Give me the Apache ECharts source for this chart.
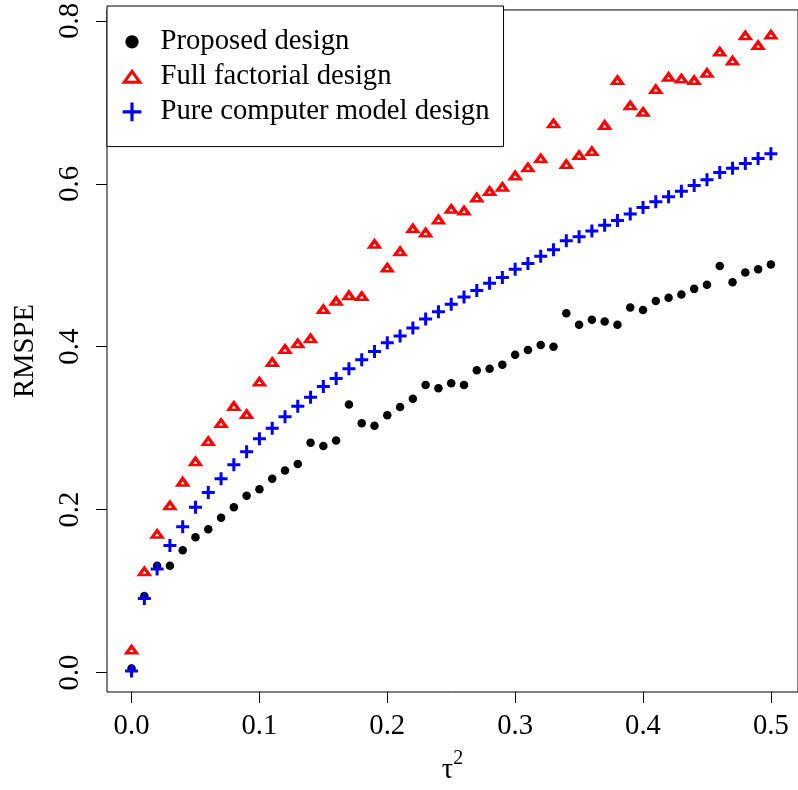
<!DOCTYPE html>
<html>
<head>
<meta charset="utf-8">
<script src="https://cdn.jsdelivr.net/npm/echarts@6/dist/echarts.min.js"></script>
<style>
  html, body { margin: 0; padding: 0; background: #fff; }
  #chart { width: 798px; height: 790px; }
</style>
</head>
<body>
<div id="chart"></div>
<script>
// tau^2 values at which each design was evaluated
const tau2 = [0.00, 0.01, 0.02, 0.03, 0.04, 0.05, 0.06, 0.07, 0.08, 0.09,
              0.10, 0.11, 0.12, 0.13, 0.14, 0.15, 0.16, 0.17, 0.18, 0.19,
              0.20, 0.21, 0.22, 0.23, 0.24, 0.25, 0.26, 0.27, 0.28, 0.29,
              0.30, 0.31, 0.32, 0.33, 0.34, 0.35, 0.36, 0.37, 0.38, 0.39,
              0.40, 0.41, 0.42, 0.43, 0.44, 0.45, 0.46, 0.47, 0.48, 0.49, 0.50];

// RMSPE for each design
const proposedDesign = [0.005, 0.094, 0.131, 0.131, 0.150, 0.166, 0.176, 0.190, 0.203, 0.217,
                        0.225, 0.238, 0.248, 0.256, 0.282, 0.278, 0.285, 0.329, 0.306, 0.303,
                        0.316, 0.326, 0.336, 0.353, 0.349, 0.355, 0.353, 0.371, 0.373, 0.378,
                        0.390, 0.396, 0.402, 0.400, 0.441, 0.427, 0.433, 0.431, 0.427, 0.448,
                        0.445, 0.456, 0.460, 0.464, 0.471, 0.476, 0.499, 0.479, 0.491, 0.495, 0.501];

const fullFactorialDesign = [0.028, 0.124, 0.170, 0.205, 0.234, 0.259, 0.284, 0.306, 0.327, 0.317,
                             0.357, 0.381, 0.397, 0.404, 0.410, 0.446, 0.456, 0.463, 0.462, 0.526,
                             0.497, 0.517, 0.545, 0.540, 0.556, 0.569, 0.567, 0.583, 0.591, 0.596,
                             0.610, 0.620, 0.631, 0.674, 0.624, 0.635, 0.640, 0.672, 0.727, 0.696,
                             0.688, 0.716, 0.731, 0.729, 0.727, 0.736, 0.762, 0.751, 0.782, 0.770, 0.783];

const pureComputerDesign = [0.002, 0.091, 0.127, 0.156, 0.179, 0.203, 0.221, 0.238, 0.255, 0.271,
                            0.287, 0.300, 0.314, 0.327, 0.338, 0.351, 0.361, 0.373, 0.384, 0.394,
                            0.405, 0.413, 0.423, 0.434, 0.443, 0.452, 0.461, 0.469, 0.478, 0.485,
                            0.495, 0.502, 0.511, 0.519, 0.530, 0.535, 0.542, 0.549, 0.555, 0.563,
                            0.571, 0.578, 0.584, 0.591, 0.598, 0.605, 0.614, 0.619, 0.625, 0.631, 0.637];

const seriesNames = ['Proposed design', 'Full factorial design', 'Pure computer model design'];
const xTicks = [0, 0.1, 0.2, 0.3, 0.4, 0.5];
const yTicks = [0, 0.2, 0.4, 0.6, 0.8];

const pairs = ys => tau2.map((x, i) => [x, ys[i]]);

const FONT = 'Liberation Serif';
const FS = 28.7;

// marker shapes (plot size and padded legend size)
const plusPath = 'path://M5,0H8V5H13V8H8V13H5V8H0V5H5Z';
const trianglePath = 'path://M6,0L12,9L0,9Z';
const legendDot = 'path://M0,0M20,20M16.65,10A6.65,6.65,0,1,1,3.35,10A6.65,6.65,0,1,1,16.65,10Z';
const legendTriangle = 'path://M0,0M20,20M10,4.6L17.8,15.4L2.2,15.4Z';
const legendPlus = 'path://M0,0M20,20M8.4,0.65H11.6V8.4H19.35V11.6H11.6V19.35H8.4V11.6H0.65V8.4H8.4Z';

const chart = echarts.init(document.getElementById('chart'), null, { renderer: 'canvas' });

chart.setOption({
  animation: false,
  backgroundColor: '#fff',
  textStyle: { fontFamily: FONT, color: '#000' },
  grid: {
    left: 107, top: 6, width: 697, height: 689,
    show: true, borderColor: '#000', borderWidth: 1, backgroundColor: 'transparent',
    containLabel: false
  },
  xAxis: {
    type: 'value',
    min: -0.0192, max: 0.5212,
    axisLine: { show: false, onZero: false },
    splitLine: { show: false },
    axisTick: { show: true, length: 11, customValues: xTicks, lineStyle: { color: '#000', width: 1 } },
    axisLabel: {
      customValues: xTicks, margin: 20,
      fontFamily: FONT, fontSize: FS, color: '#000',
      formatter: v => v.toFixed(1)
    },
    name: '{t|τ}{s|2}',
    nameLocation: 'middle',
    nameGap: 57,
    nameTextStyle: {
      fontFamily: FONT, fontSize: FS, color: '#000',
      rich: {
        t: { fontFamily: FONT, fontSize: FS, color: '#000', verticalAlign: 'bottom', lineHeight: 36 },
        s: { fontFamily: FONT, fontSize: 20, color: '#000', verticalAlign: 'top', lineHeight: 20 }
      }
    }
  },
  yAxis: {
    type: 'value',
    min: -0.0239, max: 0.8134,
    axisLine: { show: false, onZero: false },
    splitLine: { show: false },
    axisTick: { show: true, length: 11, customValues: yTicks, lineStyle: { color: '#000', width: 1 } },
    axisLabel: {
      customValues: yTicks, margin: 22, rotate: 90,
      fontFamily: FONT, fontSize: FS, color: '#000',
      formatter: v => v.toFixed(1)
    },
    name: 'RMSPE',
    nameLocation: 'middle',
    nameRotate: 90,
    nameGap: 67,
    nameTextStyle: { fontFamily: FONT, fontSize: FS, color: '#000' }
  },
  legend: {
    orient: 'vertical',
    left: 107, top: 6,
    padding: [21.3, 14, 20.3, 13.5],
    itemGap: 6,
    itemWidth: 47, itemHeight: 20,
    symbolKeepAspect: true,
    borderColor: '#000', borderWidth: 1,
    backgroundColor: '#fff',
    selectedMode: false,
    textStyle: { fontFamily: FONT, fontSize: FS, color: '#000' },
    data: [
      { name: seriesNames[0], icon: legendDot, itemStyle: { color: '#000', borderWidth: 0 } },
      { name: seriesNames[1], icon: legendTriangle, itemStyle: { color: '#fff', borderColor: '#ff0000', borderWidth: 3 } },
      { name: seriesNames[2], icon: legendPlus, itemStyle: { color: '#0000ff', borderWidth: 0 } }
    ]
  },
  series: [
    {
      name: seriesNames[0], type: 'scatter', silent: true,
      symbol: 'circle', symbolSize: 8.5,
      itemStyle: { color: '#000', opacity: 1 },
      data: pairs(proposedDesign)
    },
    {
      name: seriesNames[1], type: 'scatter', silent: true,
      symbol: trianglePath, symbolSize: [10, 7],
      itemStyle: { color: '#fff', borderColor: '#ff0000', borderWidth: 3, opacity: 1 },
      data: pairs(fullFactorialDesign)
    },
    {
      name: seriesNames[2], type: 'scatter', silent: true,
      symbol: plusPath, symbolSize: 13,
      itemStyle: { color: '#0000ff', opacity: 1 },
      data: pairs(pureComputerDesign)
    }
  ]
});
</script>
</body>
</html>
